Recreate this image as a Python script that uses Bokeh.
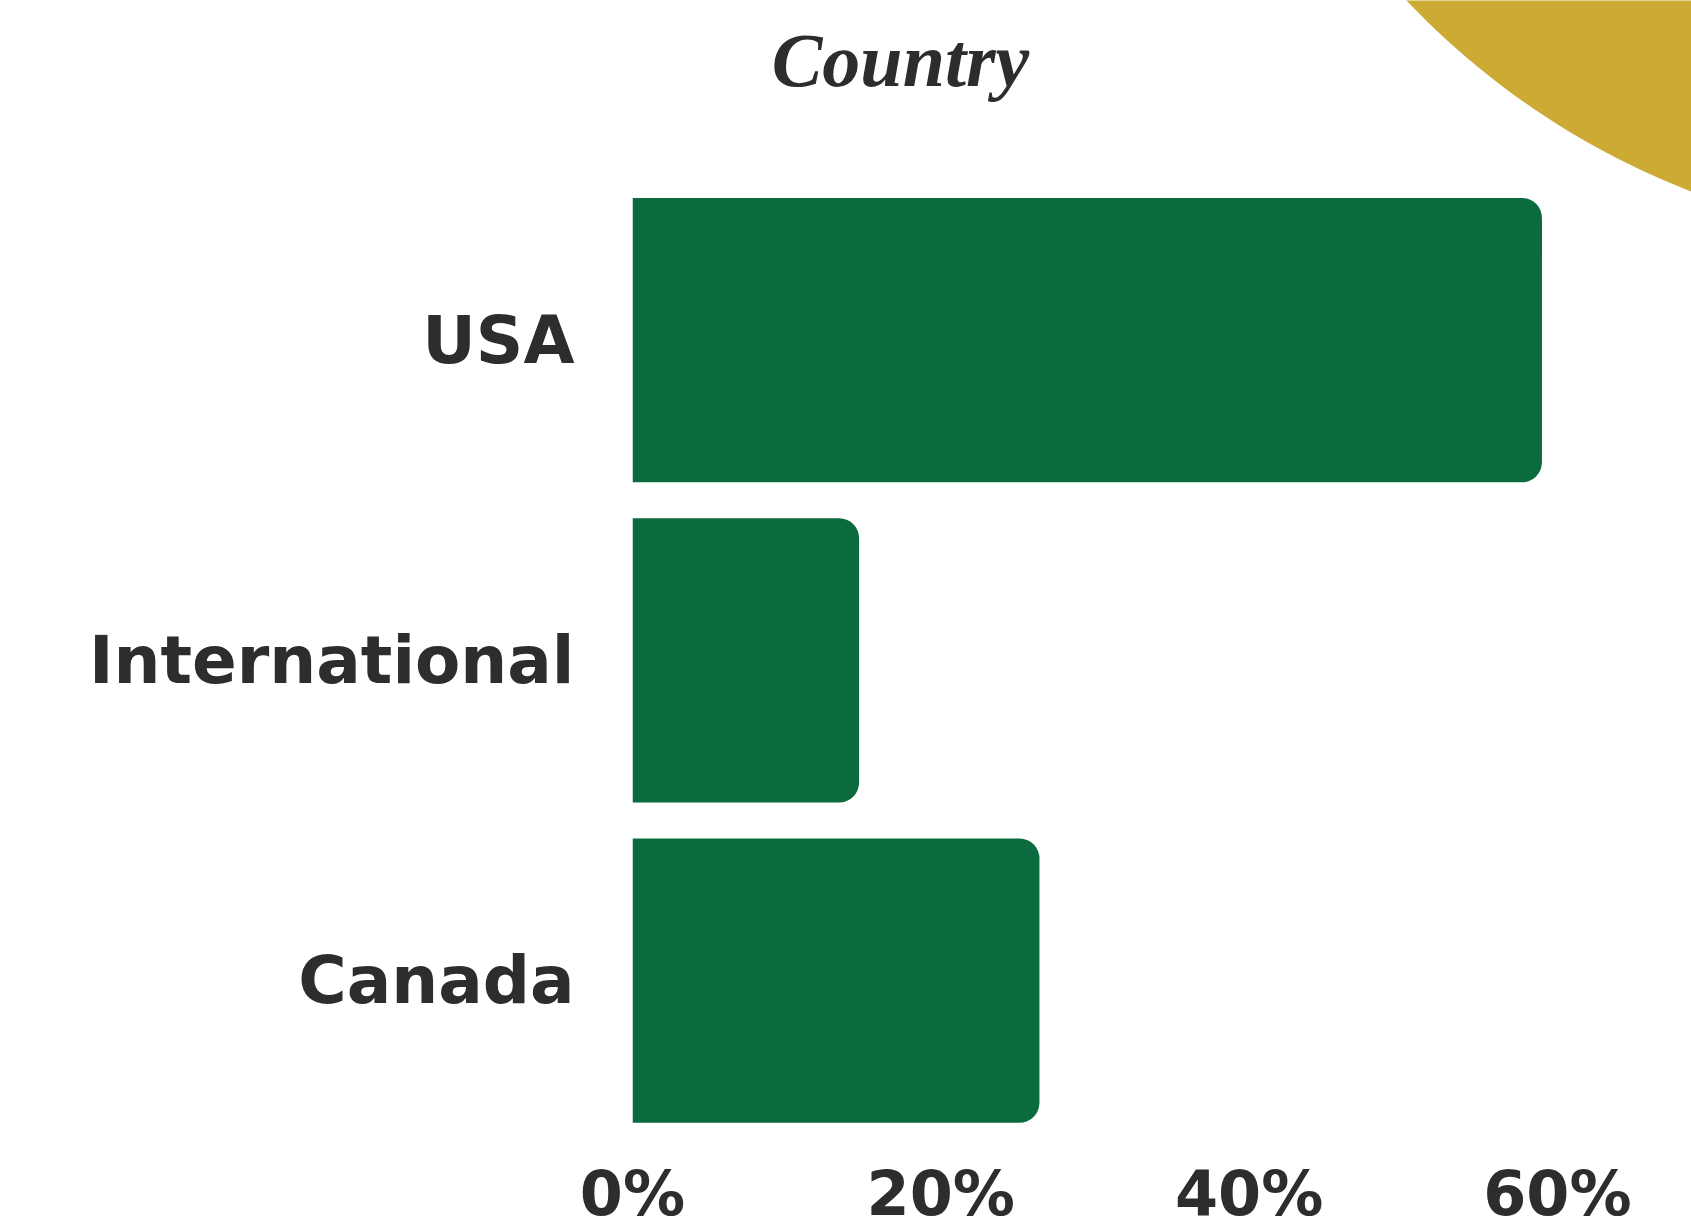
import numpy as np
from bokeh.plotting import figure
from bokeh.models import Range1d, FixedTicker, PrintfTickFormatter, PolyAnnotation, Label
from bokeh.embed import file_html
from bokeh.resources import INLINE

# ---- data ----
categories = ["USA", "International", "Canada"]      # top to bottom
shares = [59.0, 14.7, 26.4]                           # percent
x_ticks = [0, 20, 40, 60]
title_text = "Country"

# ---- style ----
GREEN = "#0b6b3e"
GOLD = "#ccaa33"
INK = "#2d2d2b"

W, H = 1691, 1232
LEFT, TOP, BOTTOM = 632, 0, 107
X_END = 68.7
Y_START, Y_END = -0.4493, 3.0608

# category positions on the y scale (bottom category = 0)
y_pos = [len(categories) - 1 - i for i in range(len(categories))]

p = figure(width=W, height=H,
           x_range=Range1d(0, X_END), y_range=Range1d(Y_START, Y_END),
           output_backend="svg", toolbar_location=None,
           min_border_left=LEFT, min_border_right=0,
           min_border_top=TOP, min_border_bottom=BOTTOM)

p.hbar(y=y_pos, left=0, right=shares, height=0.888,
       fill_color=GREEN, line_color=None, border_radius=(0, 20, 20, 0))

# axes
p.xaxis.ticker = FixedTicker(ticks=x_ticks)
p.xaxis.formatter = PrintfTickFormatter(format="%d%%")
p.yaxis.ticker = FixedTicker(ticks=y_pos)
p.yaxis.major_label_overrides = {y: c for y, c in zip(y_pos, categories)}
for ax in (p.xaxis[0], p.yaxis[0]):
    ax.axis_line_color = None
    ax.major_tick_line_color = None
    ax.minor_tick_line_color = None
    ax.major_tick_out = 0
    ax.major_tick_in = 0
    ax.major_label_text_color = INK
    ax.major_label_text_font_style = "bold"
p.xaxis.major_label_text_font = "DejaVu Sans"
p.xaxis.major_label_text_font_size = "62px"
p.xaxis.major_label_standoff = 32
p.yaxis.major_label_text_font = "DejaVu Sans"
p.yaxis.major_label_text_font_size = "66px"
p.yaxis.major_label_standoff = 58

p.xgrid.grid_line_color = None
p.ygrid.grid_line_color = None
p.outline_line_color = None
p.background_fill_color = "white"
p.border_fill_color = "white"

# pixel -> data helpers for decorations
frame_w = W - LEFT
frame_h = H - TOP - BOTTOM
def px_to_x(px):
    return (px - LEFT) / frame_w * X_END
def py_to_y(py):
    return Y_END - (py - TOP) / frame_h * (Y_END - Y_START)

# gold arc in the top-right corner
cx, cy, r = 1973, -537, 781
t = np.linspace(0, 2 * np.pi, 360)
arc = PolyAnnotation(xs=[px_to_x(v) for v in cx + r * np.cos(t)],
                     ys=[py_to_y(v) for v in cy + r * np.sin(t)],
                     fill_color=GOLD, fill_alpha=1, line_color=None, level="underlay")
p.add_layout(arc)

# title
p.add_layout(Label(x=px_to_x(900), y=py_to_y(60), text=title_text,
                   text_align="center", text_baseline="middle",
                   text_font="Liberation Serif", text_font_style="bold italic",
                   text_font_size="76px", text_color=INK))

open("out.html", "w").write(file_html(p, INLINE))
